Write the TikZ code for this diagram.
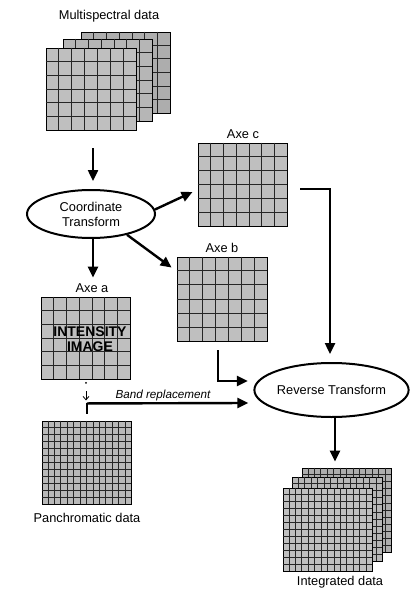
\documentclass[tikz,border=0pt]{standalone}
\usepackage{fontspec}
\setmainfont{Liberation Sans}
\usetikzlibrary{arrows.meta,calc,shapes.geometric}
\newcommand{\mkgrid}[3]{%
  \pgfmathtruncatemacro\gnx{#2-1}%
  \pgfmathtruncatemacro\gny{#3-1}%
  \foreach \i in {1,...,\gnx}{\draw[gridline] ($(#1.north west)!{\i/#2}!(#1.north east)$) -- ($(#1.south west)!{\i/#2}!(#1.south east)$);}%
  \foreach \j in {1,...,\gny}{\draw[gridline] ($(#1.north west)!{\j/#3}!(#1.south west)$) -- ($(#1.north east)!{\j/#3}!(#1.south east)$);}%
}
\begin{document}
\begin{tikzpicture}[x=1pt,y=-1pt,
  gridbox/.style={draw=black, line width=0.9pt, fill=gray!50, inner sep=0pt, minimum width=89pt, minimum height=83pt},
  gridline/.style={line width=0.8pt, black!85},
  lbl/.style={font=\fontsize{12.8}{14}\selectfont, inner sep=0pt},
  oval/.style={ellipse, draw, line width=2pt, inner sep=0pt, align=center, font=\fontsize{12.8}{15}\selectfont},
  arr/.style={line width=2.4pt, -{Triangle[length=11pt,width=10pt]}},
  plainline/.style={line width=2.4pt},
]
\useasboundingbox (0,0) rectangle (409,596);

% Multispectral stack
\node[lbl] (mstitle) at (109,16) {Multispectral data};
\node[gridbox, fill=gray!64, minimum height=81pt] (ms3) at (125.5,72.5) {};
\mkgrid{ms3}{7}{6}
\node[gridbox, fill=gray!57, minimum height=82pt] (ms2) at (107.5,80) {};
\mkgrid{ms2}{7}{6}
\node[gridbox, minimum width=90pt, minimum height=82pt] (ms1) at (91,89) {};
\mkgrid{ms1}{7}{6}

% Coordinate transform
\node[oval, minimum width=128pt, minimum height=48pt] (ct) at (91,214) {Coordinate\\Transform};
\draw[arr] ($(ms1.south)+(2,18)$) -- ($(ct.north)+(2,-8)$);

% Axe c
\node[lbl] (axeclbl) at (243,134) {Axe c};
\node[gridbox] (axec) at (242.5,184.5) {};
\mkgrid{axec}{7}{6}
\draw[arr] (ct.4) -- ($(axec.west)+(-5,7.5)$);

% Axe b
\node[lbl] (axeblbl) at (222,248) {Axe b};
\node[gridbox, minimum width=90pt, minimum height=84pt] (axeb) at (222,299) {};
\mkgrid{axeb}{7}{6}
\draw[arr] (ct.-30) -- ($(axeb.north west)+(-5,11)$);

% Axe a
\node[lbl] (axealbl) at (92,288) {Axe a};
\node[gridbox, minimum height=82pt] (axea) at (85.5,338) {};
\mkgrid{axea}{7}{6}
\node[font=\bfseries\fontsize{14}{15}\selectfont, align=center, inner sep=0pt] (intens) at (90,339) {INTENSITY\\IMAGE};
\draw[arr] ($(ct.south)+(2,0)$) -- ($(axea.north)+(7.5,-19)$);

% Reverse transform
\node[oval, minimum width=127pt, minimum height=54pt] (rt) at (331.5,390) {Reverse Transform};
\draw[arr] ($(axec.east)+(13,4.5)$) -| ($(rt.north)+(-1.5,-8)$);
\draw[arr] ($(axeb.south)+(-4,9)$) |- ($(rt.west)+(-5.5,-9)$);

% Panchromatic
\node[gridbox, fill=gray!56] (pan) at (86.5,462.5) {};
\mkgrid{pan}{14}{12}
\node[lbl] (panlbl) at (87,518) {Panchromatic data};

% Band replacement
\coordinate (dot) at ($(axea.south)+(0.5,3.5)$);
\fill (dot) circle (1pt);
\coordinate (sa1) at ($(axea.south)+(0.5,12)$);
\coordinate (sa2) at ($(axea.south)+(0.5,21)$);
\draw[line width=0.8pt, -{Straight Barb[length=3.5pt,width=6pt]}] (sa1) -- (sa2);
\coordinate (bc) at ($(axea.south)+(1.5,24)$);
\draw[arr] (bc) -- ($(rt.west)+(-5,13)$);
\draw[plainline] ($(pan.north)+(0.5,-7)$) -- (bc);
\node[font=\itshape\fontsize{11.7}{13}\selectfont, inner sep=0pt] (bandlbl) at (163,395) {Band replacement};

% Integrated stack
\node[gridbox, fill=gray!64, minimum height=84pt] (int3) at (346.5,510) {};
\mkgrid{int3}{14}{12}
\node[gridbox, fill=gray!57, minimum width=90pt, minimum height=84pt] (int2) at (337,519) {};
\mkgrid{int2}{14}{12}
\node[gridbox] (int1) at (327.5,529.5) {};
\mkgrid{int1}{14}{12}
\draw[arr] ($(rt.south)+(3.5,0)$) -- ($(int3.north)+(-11.5,-6)$);
\node[lbl] (intlbl) at (340,582) {Integrated data};
\end{tikzpicture}
\end{document}
